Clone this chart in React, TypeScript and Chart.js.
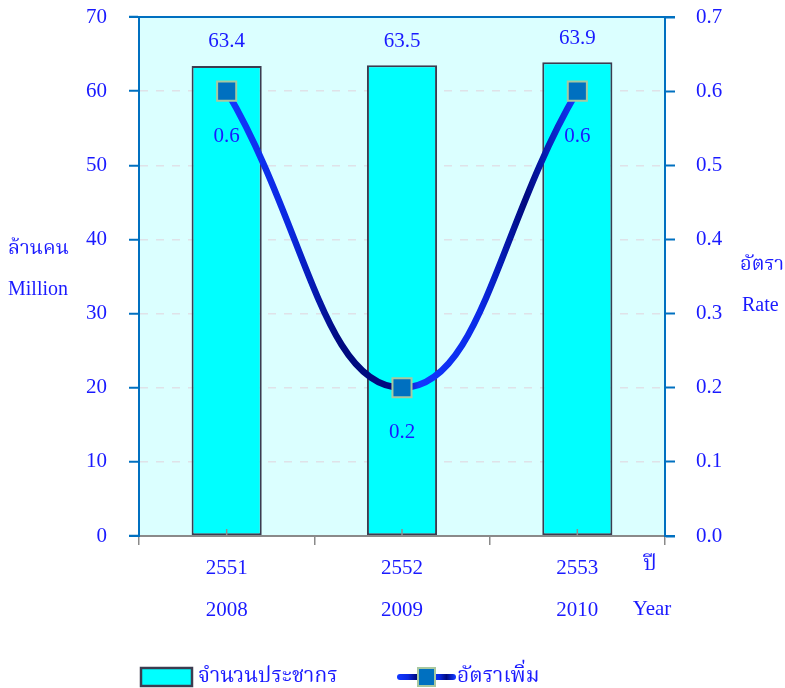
import React, { useEffect, useRef } from 'react';
import { Chart, registerables } from 'chart.js';

Chart.register(...registerables);

const yearsBE = ['2551', '2552', '2553'];
const yearsAD = ['2008', '2009', '2010'];
const population = [63.4, 63.5, 63.9];
const growthRate = [0.6, 0.2, 0.6];
const popLabel = 'จำนวนประชากร';
const rateLabel = 'อัตราเพิ่ม';

const FONT = "'Liberation Serif', 'Times New Roman', 'Noto Serif Thai', 'Noto Sans Thai', serif";
const TEXT_BLUE = '#1a1aff';
const AXIS_BLUE = '#0070c0';
const BAR_FILL = '#00ffff';
const BAR_BORDER = '#3c3c50';
const PLOT_BG = '#dbffff';
const MARKER_FILL = '#0070c0';
const MARKER_BORDER = '#a8c8a0';

function lineGradient(ctx: CanvasRenderingContext2D, x0: number, x1: number) {
  const g = ctx.createLinearGradient(x0, 0, x1, 0);
  g.addColorStop(0, '#1238ff');
  g.addColorStop(0.18, '#0a28e0');
  g.addColorStop(0.32, '#000a80');
  g.addColorStop(0.48, '#000a80');
  g.addColorStop(0.55, '#1238ff');
  g.addColorStop(0.72, '#0a2ae8');
  g.addColorStop(0.85, '#000a80');
  g.addColorStop(1, '#1238ff');
  return g;
}

const decorPlugin = {
  id: 'decor',
  beforeDraw(chart: any) {
    const { ctx, chartArea: a } = chart;
    ctx.save();
    ctx.fillStyle = PLOT_BG;
    ctx.fillRect(a.left, a.top, a.right - a.left, a.bottom - a.top);
    ctx.restore();
  },
  afterDraw(chart: any) {
    const { ctx, chartArea: a } = chart;
    const xs = chart.scales.x;
    ctx.save();
    // top frame line
    ctx.strokeStyle = AXIS_BLUE;
    ctx.lineWidth = 2;
    ctx.beginPath();
    ctx.moveTo(a.left - 10, a.top);
    ctx.lineTo(a.right + 10, a.top);
    ctx.stroke();
    // bottom axis line
    ctx.strokeStyle = '#8a8a8a';
    ctx.beginPath();
    ctx.moveTo(a.left, a.bottom);
    ctx.lineTo(a.right, a.bottom);
    ctx.stroke();
    ctx.strokeStyle = AXIS_BLUE;
    ctx.beginPath();
    ctx.moveTo(a.left - 10, a.bottom);
    ctx.lineTo(a.left + 1, a.bottom);
    ctx.moveTo(a.right - 1, a.bottom);
    ctx.lineTo(a.right + 10, a.bottom);
    ctx.stroke();
    // small inner ticks at category centers
    ctx.strokeStyle = '#909090';
    ctx.lineWidth = 1.5;
    yearsBE.forEach((_, i) => {
      const px = xs.getPixelForValue(i);
      ctx.beginPath();
      ctx.moveTo(px, a.bottom);
      ctx.lineTo(px, a.bottom - 7);
      ctx.stroke();
    });

    ctx.fillStyle = TEXT_BLUE;
    ctx.font = `21px ${FONT}`;
    ctx.textAlign = 'center';
    ctx.textBaseline = 'middle';
    // bar value labels
    const barMeta = chart.getDatasetMeta(0);
    barMeta.data.forEach((el: any, i: number) => {
      ctx.fillText(population[i].toFixed(1), el.x, el.y - 24);
    });
    // line value labels
    const lineMeta = chart.getDatasetMeta(1);
    lineMeta.data.forEach((el: any, i: number) => {
      ctx.fillText(growthRate[i].toFixed(1), el.x, el.y + 45);
    });

    // axis titles
    ctx.textAlign = 'left';
    ctx.font = `20px ${FONT}`;
    ctx.fillText('ล้านคน', 8, 249);
    ctx.fillText('Million', 8, 290);
    ctx.fillText('อัตรา', 740, 265);
    ctx.fillText('Rate', 742, 306);
    ctx.textAlign = 'center';
    ctx.font = `21px ${FONT}`;
    ctx.fillText('ปี', 650, 564);
    ctx.fillText('Year', 652, 609);

    // legend
    ctx.fillStyle = BAR_FILL;
    ctx.fillRect(141, 668, 51, 18);
    ctx.strokeStyle = BAR_BORDER;
    ctx.lineWidth = 2.5;
    ctx.strokeRect(141, 668, 51, 18);
    ctx.fillStyle = TEXT_BLUE;
    ctx.textAlign = 'left';
    ctx.font = `21px ${FONT}`;
    ctx.fillText(popLabel, 198, 676);

    ctx.strokeStyle = lineGradient(ctx, 398, 455);
    ctx.lineWidth = 6;
    ctx.lineCap = 'round';
    ctx.beginPath();
    ctx.moveTo(400, 677);
    ctx.lineTo(453, 677);
    ctx.stroke();
    ctx.fillStyle = MARKER_FILL;
    ctx.fillRect(418, 668, 17, 18);
    ctx.strokeStyle = MARKER_BORDER;
    ctx.lineWidth = 2;
    ctx.strokeRect(418, 668, 17, 18);
    ctx.fillStyle = TEXT_BLUE;
    ctx.fillText(rateLabel, 457, 676);
    ctx.restore();
  },
};

export default function App() {
  const ref = useRef<HTMLCanvasElement>(null);
  useEffect(() => {
    document.body.style.margin = '0';
    const canvas = ref.current!;
    const chart = new Chart(canvas, {
      type: 'bar',
      data: {
        labels: yearsBE.map((b, i) => [b, yearsAD[i]]),
        datasets: [
          {
            type: 'bar',
            label: popLabel,
            data: population,
            yAxisID: 'y',
            backgroundColor: BAR_FILL,
            borderColor: BAR_BORDER,
            borderWidth: 2,
            borderSkipped: false,
            barPercentage: 0.4,
            categoryPercentage: 1,
            order: 1,
          } as any,
          {
            type: 'line',
            label: rateLabel,
            data: growthRate,
            yAxisID: 'y1',
            borderColor: (c: any) => {
              const a = c.chart.chartArea;
              if (!a) return '#0a28e0';
              const xs = c.chart.scales.x;
              return lineGradient(c.chart.ctx, xs.getPixelForValue(0), xs.getPixelForValue(2));
            },
            borderWidth: 6.5,
            tension: 0.45,
            pointStyle: 'rect',
            pointRadius: 13.5,
            pointBorderWidth: 2,
            pointBackgroundColor: MARKER_FILL,
            pointBorderColor: MARKER_BORDER,
            order: 0,
          } as any,
        ],
      },
      options: {
        responsive: false,
        animation: false,
        layout: { padding: { top: 17, left: 0, right: 0, bottom: 0 } },
        plugins: { legend: { display: false }, tooltip: { enabled: false } },
        scales: {
          x: {
            offset: true,
            grid: {
              offset: true,
              drawOnChartArea: false,
              drawTicks: true,
              tickLength: 9,
              color: '#8a8a8a',
              lineWidth: 1.5,
            },
            border: { display: true, color: '#8a8a8a', width: 2 },
            ticks: {
              color: TEXT_BLUE,
              font: { family: FONT, size: 21, lineHeight: 2.0 },
              padding: 2,
              maxRotation: 0,
            },
            afterFit: (s: any) => { s.height = 152; s.paddingLeft = 0; s.paddingRight = 0; },
          },
          y: {
            position: 'left',
            min: 0,
            max: 70,
            ticks: {
              stepSize: 10,
              color: TEXT_BLUE,
              font: { family: FONT, size: 21 },
              padding: 22,
            },
            grid: {
              color: (c: any) => (c.tick && (c.tick.value === 0 || c.tick.value === 70) ? 'rgba(0,0,0,0)' : '#dfe2e8'),
              tickColor: AXIS_BLUE,
              tickLength: 10,
              lineWidth: 1.5,
              tickWidth: 2,
            },
            border: { display: true, color: AXIS_BLUE, width: 2, dash: [8, 8] },
            afterFit: (s: any) => { s.width = 139; s.paddingTop = 0; s.paddingBottom = 0; },
          },
          y1: {
            position: 'right',
            min: 0,
            max: 0.7,
            ticks: {
              stepSize: 0.1,
              color: TEXT_BLUE,
              font: { family: FONT, size: 21 },
              padding: 21,
              callback: (v: any) => Number(v).toFixed(1),
            },
            grid: {
              drawOnChartArea: false,
              tickColor: AXIS_BLUE,
              tickLength: 10,
              tickWidth: 2,
            },
            border: { display: true, color: AXIS_BLUE, width: 2 },
            afterFit: (s: any) => { s.width = 120; s.paddingTop = 0; s.paddingBottom = 0; },
          },
        },
      } as any,
      plugins: [decorPlugin],
    });
    return () => chart.destroy();
  }, []);
  return <canvas ref={ref} width={785} height={688} style={{ display: 'block' }} />;
}
